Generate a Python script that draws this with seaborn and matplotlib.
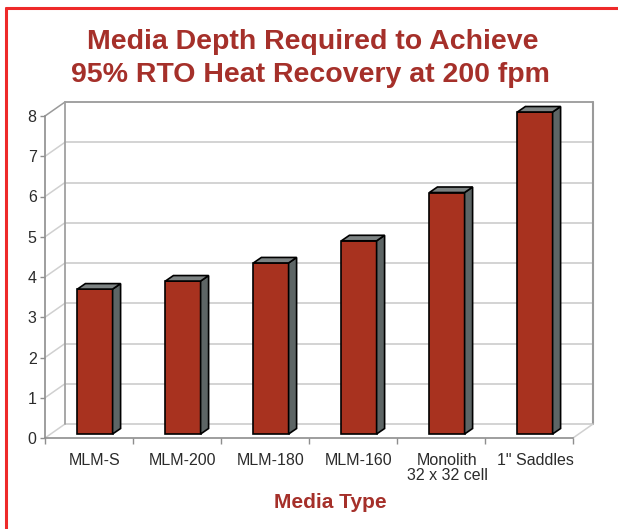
import numpy as np
import pandas as pd
import matplotlib
matplotlib.use("Agg")
import matplotlib.pyplot as plt
import seaborn as sns
from matplotlib.patches import Polygon
from matplotlib.lines import Line2D

# values
media = ["MLM-S", "MLM-200", "MLM-180", "MLM-160", "Monolith\n32 x 32 cell", '1" Saddles']
depth = [3.6, 3.8, 4.25, 4.8, 6.0, 8.0]
y_ticks = [0, 1, 2, 3, 4, 5, 6, 7, 8]

df = pd.DataFrame({"media": media, "depth": depth})

sns.set_style("ticks")
plt.rcParams["font.family"] = ["Liberation Sans", "DejaVu Sans"]

BAR_RED = "#a8321f"
SIDE = "#5d6565"
TOP = "#7d8383"
TITLE_RED = "#a5302a"
AXIS_GREY = "#8e8e8e"
GRID_GREY = "#d0d0d0"

W, H = 618, 529
fig = plt.figure(figsize=(W / 100, H / 100), dpi=100)
ax = fig.add_axes([45 / W, 1 - 438 / H, 528 / W, 322 / H])

sns.barplot(data=df, x="media", y="depth", color=BAR_RED, saturation=1, width=0.4,
            edgecolor="black", linewidth=1.2, ax=ax, zorder=3)
ax.set_xlim(-0.5, 5.5)
ax.set_ylim(0, 8)

# pixel -> data units for the fake 3d depth
ppx = ax.bbox.width / 6
ppy = ax.bbox.height / 8
wx, wy = 20 / ppx, 14 / ppy     # wall depth
bx, by = 6 / ppx, 4 / ppy       # plane of the bar fronts
sx, sy = 8 / ppx, 5.5 / ppy     # bar thickness

#%% walls and floor
lx0, lx1 = -0.5, 5.5
for v in y_ticks:
    c = "#9a9a9a" if v == y_ticks[-1] else GRID_GREY
    ax.plot([lx0 + wx, lx1 + wx], [v + wy, v + wy], color=c, lw=1.3, zorder=1, clip_on=False)
    ax.plot([lx0, lx0 + wx], [v, v + wy], color=c, lw=1.1, zorder=1, clip_on=False)
ax.plot([lx0 + wx] * 2, [wy, 8 + wy], color="#a0a0a0", lw=1.3, zorder=1, clip_on=False)
ax.plot([lx1 + wx] * 2, [wy, 8 + wy], color="#9a9a9a", lw=1.5, zorder=1, clip_on=False)
ax.plot([lx1, lx1 + wx], [0, wy], color=GRID_GREY, lw=1.1, zorder=1, clip_on=False)

#%% bars: shift onto their plane and add side / top faces
for p in list(ax.patches):
    p.set_x(p.get_x() + bx)
    p.set_y(by)
    x0, w, h = p.get_x(), p.get_width(), p.get_height()
    x1 = x0 + w
    top = by + h
    side = Polygon([(x1, by), (x1 + sx, by + sy), (x1 + sx, top + sy), (x1, top)],
                   closed=True, facecolor=SIDE, edgecolor="black", lw=1.2, zorder=3, clip_on=False)
    lid = Polygon([(x0, top), (x0 + sx, top + sy), (x1 + sx, top + sy), (x1, top)],
                  closed=True, facecolor=TOP, edgecolor="black", lw=1.2, zorder=3, clip_on=False)
    ax.add_patch(side)
    ax.add_patch(lid)
    p.set_clip_on(False)

#%% axes, ticks
for s in ["top", "right"]:
    ax.spines[s].set_visible(False)
for s in ["left", "bottom"]:
    ax.spines[s].set_color(AXIS_GREY)
    ax.spines[s].set_linewidth(1.2)

ax.set_xticks(np.arange(len(media)) + bx, labels=media)
ax.set_xticks(np.arange(-0.5, len(media), 1), minor=True)
ax.tick_params(axis="x", which="major", length=0, pad=10.5, labelsize=11.5, labelcolor="#2b2b2b")
ax.tick_params(axis="x", which="minor", length=4.5, width=1, color=AXIS_GREY, direction="out", bottom=True)
for lab in ax.get_xticklabels():
    lab.set_linespacing(1.0)
ax.set_yticks(y_ticks)
ax.tick_params(axis="y", length=3.5, width=1, color=AXIS_GREY, pad=2.5, labelsize=11.5,
               labelcolor="#2b2b2b", left=True)
ax.set_xlabel("")
ax.set_ylabel("")

#%% titles
fig.text(313 / W, 1 - 42 / H, "Media Depth Required to Achieve", ha="center", va="center",
         fontsize=20.5, fontweight="bold", color=TITLE_RED)
fig.text(310 / W, 1 - 75 / H, "95% RTO Heat Recovery at 200 fpm", ha="center", va="center",
         fontsize=20.5, fontweight="bold", color=TITLE_RED)
fig.text(330 / W, 1 - 502 / H, "Media Type", ha="center", va="center",
         fontsize=15, fontweight="bold", color=TITLE_RED)

# red frame (left and top only)
fig.add_artist(Line2D([5.5 / W, 5.5 / W], [0, 1 - 7.5 / H], transform=fig.transFigure,
                      color="#ee2a2a", lw=2.2))
fig.add_artist(Line2D([5.5 / W, 1], [1 - 7.5 / H, 1 - 7.5 / H], transform=fig.transFigure,
                      color="#ee2a2a", lw=2.2))

fig.savefig("out.png", dpi=100)
